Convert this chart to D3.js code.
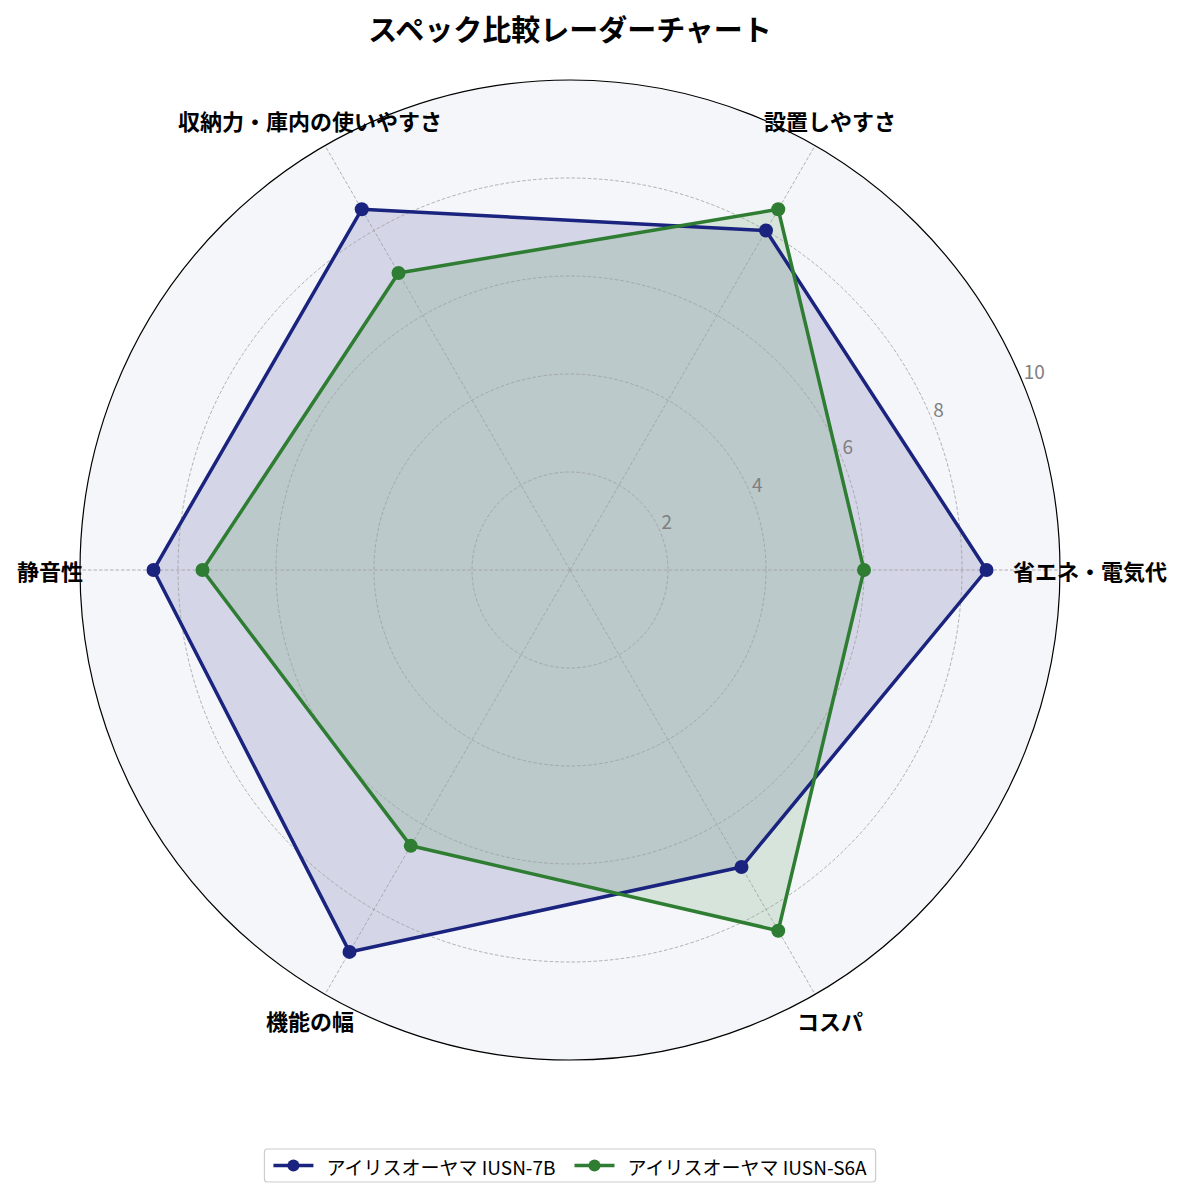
<!DOCTYPE html>
<html>
<head>
<meta charset="utf-8">
<script src="https://cdn.jsdelivr.net/npm/d3@7"></script>
<style>
  body { margin: 0; background: #fff; }
  text { font-family: "Noto Sans CJK JP", "Noto Sans", sans-serif; }
</style>
</head>
<body>
<div id="grafico"></div>
<script>
const categorias = ["省エネ・電気代", "設置しやすさ", "収納力・庫内の使いやすさ", "静音性", "機能の幅", "コスパ"];
const serieNombres = ["アイリスオーヤマ IUSN-7B", "アイリスオーヤマ IUSN-S6A"];
const valores7B = [8.5, 8.0, 8.5, 8.5, 9.0, 7.0];
const valoresS6A = [6.0, 8.5, 7.0, 7.5, 6.5, 8.5];
const ticks = [2, 4, 6, 8, 10];
const colores = ["#1a237e", "#2e7d32"];

const ancho = 1185, alto = 1198;
const cx = 570, cy = 570, radio = 490;

const svg = d3.select("#grafico").append("svg")
    .attr("width", ancho)
    .attr("height", alto);

const r = d3.scaleLinear().domain([0, 10]).range([0, radio]);
// angulo 0 a la derecha, sentido antihorario
const ang = d3.scaleLinear().domain([0, categorias.length]).range([0, Math.PI * 2]);
const punto = (i, v) => [cx + r(v) * Math.cos(ang(i)), cy - r(v) * Math.sin(ang(i))];

// fondo polar
svg.append("circle")
    .attr("cx", cx).attr("cy", cy).attr("r", radio)
    .attr("fill", "#f5f6fa");

const series = [valores7B, valoresS6A];

// rellenos
series.forEach((vals, k) => {
    svg.append("path")
        .attr("d", d3.line().curve(d3.curveLinearClosed)(vals.map((v, i) => punto(i, v))))
        .attr("fill", colores[k])
        .attr("fill-opacity", 0.15)
        .attr("stroke", "none");
});

// rejilla encima del relleno
const rejilla = svg.append("g");
ticks.slice(0, -1).forEach(t => {
    rejilla.append("circle")
        .attr("cx", cx).attr("cy", cy).attr("r", r(t))
        .attr("fill", "none")
        .attr("stroke", "#9e9e9e")
        .attr("stroke-width", 0.8)
        .attr("stroke-dasharray", "3.5,2");
});
categorias.forEach((c, i) => {
    const [x, y] = punto(i, 10);
    rejilla.append("line")
        .attr("x1", cx).attr("y1", cy).attr("x2", x).attr("y2", y)
        .attr("stroke", "#9e9e9e")
        .attr("stroke-width", 0.8)
        .attr("stroke-dasharray", "3.5,2");
});

// borde exterior
svg.append("circle")
    .attr("cx", cx).attr("cy", cy).attr("r", radio)
    .attr("fill", "none")
    .attr("stroke", "#000")
    .attr("stroke-width", 1.2);

// etiquetas radiales
const angTick = Math.PI / 8;
ticks.forEach(t => {
    svg.append("text")
        .attr("x", cx + r(t) * Math.cos(angTick) + 1)
        .attr("y", cy - r(t) * Math.sin(angTick) - 3)
        .attr("fill", "#808080")
        .attr("font-size", 19)
        .attr("font-family", "Roboto, 'Noto Sans', sans-serif")
        .text(t);
});

// lineas y puntos
series.forEach((vals, k) => {
    const pts = vals.map((v, i) => punto(i, v));
    svg.append("path")
        .attr("d", d3.line().curve(d3.curveLinearClosed)(pts))
        .attr("fill", "none")
        .attr("stroke", colores[k])
        .attr("stroke-width", 3.5)
        .attr("stroke-linejoin", "round");
    svg.append("g").selectAll("circle")
        .data(pts)
        .join("circle")
        .attr("cx", d => d[0]).attr("cy", d => d[1])
        .attr("r", 7)
        .attr("fill", colores[k]);
});

// etiquetas de categorias
categorias.forEach((c, i) => {
    const [x, y] = punto(i, 520 / 49);
    svg.append("text")
        .attr("x", x).attr("y", y)
        .attr("text-anchor", "middle")
        .attr("dominant-baseline", "central")
        .attr("font-size", 22)
        .attr("font-weight", "bold")
        .attr("fill", "#000")
        .text(c);
});

// titulo
svg.append("text")
    .attr("x", cx).attr("y", 28)
    .attr("text-anchor", "middle")
    .attr("dominant-baseline", "central")
    .attr("font-size", 29)
    .attr("font-weight", "bold")
    .text("スペック比較レーダーチャート");

// leyenda
const leyenda = svg.append("g");
const caja = leyenda.append("rect")
    .attr("y", 1149).attr("height", 33)
    .attr("rx", 3)
    .attr("fill", "#fff")
    .attr("stroke", "#cccccc")
    .attr("stroke-width", 1.2);
const items = [];
serieNombres.forEach((n, k) => {
    const g = leyenda.append("g");
    g.append("line")
        .attr("x1", 0).attr("x2", 40).attr("y1", 1165.5).attr("y2", 1165.5)
        .attr("stroke", colores[k]).attr("stroke-width", 3.5);
    g.append("circle")
        .attr("cx", 20).attr("cy", 1165.5).attr("r", 6)
        .attr("fill", colores[k]);
    const t = g.append("text")
        .attr("x", 53).attr("y", 1166)
        .attr("dominant-baseline", "central")
        .attr("font-size", 19)
        .text(n);
    const w = 53 + t.node().getComputedTextLength();
    items.push({ g, w });
});
const sep = 19, pad = 9;
const total = items.reduce((a, b) => a + b.w, 0) + sep * (items.length - 1);
let x0 = cx - total / 2;
caja.attr("x", x0 - pad).attr("width", total + pad * 2);
items.forEach(it => {
    it.g.attr("transform", `translate(${x0},0)`);
    x0 += it.w + sep;
});
</script>
</body>
</html>
